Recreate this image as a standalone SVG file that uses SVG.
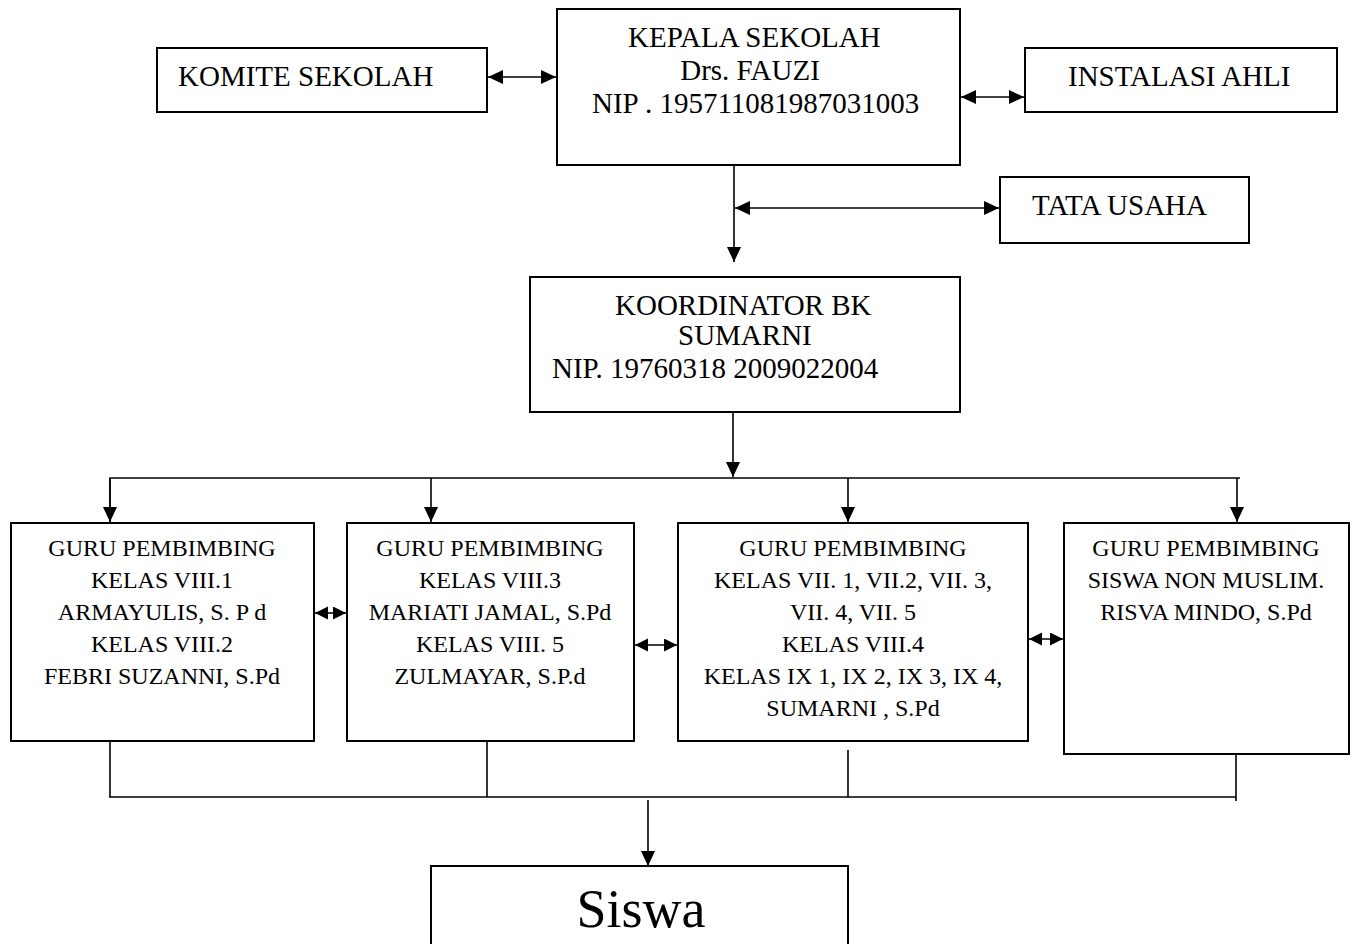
<svg xmlns="http://www.w3.org/2000/svg" width="1354" height="944" viewBox="0 0 1354 944">
<style>
.box{fill:#fff;stroke:#000;stroke-width:2}
.t{font-family:"Liberation Serif","Times New Roman",serif;font-size:29px;fill:#000}
.g{font-family:"Liberation Serif","Times New Roman",serif;font-size:24px;fill:#000;text-anchor:middle}
.c{fill:none;stroke:#000;stroke-width:1.6}
.a{marker-end:url(#ah)}
.d{marker-start:url(#ah);marker-end:url(#ah)}
.ds{marker-start:url(#as);marker-end:url(#as)}
</style>
<defs>
<marker id="ah" markerUnits="userSpaceOnUse" markerWidth="17" markerHeight="16" refX="15" refY="7.5" orient="auto-start-reverse"><path d="M0,0.5 L15,7.5 L0,14.5 z" fill="#000"/></marker>
<marker id="as" markerUnits="userSpaceOnUse" markerWidth="15" markerHeight="14" refX="13" refY="6.5" orient="auto-start-reverse"><path d="M0,0 L13,6.5 L0,13 z" fill="#000"/></marker>
</defs>
<rect width="1354" height="944" fill="#fff"/>
<g id="connectors">
<line class="c d" x1="488" y1="77" x2="556" y2="77"/>
<line class="c d" x1="961" y1="97" x2="1024" y2="97"/>
<line class="c a" x1="734" y1="165" x2="734" y2="262"/>
<line class="c d" x1="735" y1="208" x2="999" y2="208"/>
<line class="c a" x1="733" y1="413" x2="733" y2="477"/>
<polyline class="c" points="110,522 110,478 1240,478"/>
<line class="c a" x1="110" y1="478" x2="110" y2="522"/>
<line class="c a" x1="431" y1="478" x2="431" y2="522"/>
<line class="c a" x1="848" y1="478" x2="848" y2="522"/>
<line class="c a" x1="1237" y1="478" x2="1237" y2="522"/>
<line class="c ds" x1="315" y1="613" x2="346" y2="613"/>
<line class="c ds" x1="635" y1="645" x2="677" y2="645"/>
<line class="c ds" x1="1029" y1="639" x2="1063" y2="639"/>
<line class="c" x1="110" y1="741" x2="110" y2="797"/>
<line class="c" x1="487" y1="741" x2="487" y2="797"/>
<line class="c" x1="848" y1="750" x2="848" y2="797"/>
<line class="c" x1="1236" y1="754" x2="1236" y2="801"/>
<line class="c" x1="109" y1="797" x2="1236" y2="797"/>
<line class="c a" x1="648" y1="800" x2="648" y2="866"/>
</g>
<g id="komite">
<rect class="box" x="157" y="48" width="330" height="64"/>
<text class="t" x="178" y="86">KOMITE SEKOLAH</text>
</g>
<g id="kepala">
<rect class="box" x="557" y="9" width="403" height="156"/>
<text class="t" x="628" y="47">KEPALA SEKOLAH</text>
<text class="t" x="750" y="80" text-anchor="middle">Drs. FAUZI</text>
<text class="t" x="592" y="113">NIP . 195711081987031003</text>
</g>
<g id="instalasi">
<rect class="box" x="1025" y="48" width="312" height="64"/>
<text class="t" x="1068" y="86">INSTALASI AHLI</text>
</g>
<g id="tata-usaha">
<rect class="box" x="1000" y="177" width="249" height="66"/>
<text class="t" x="1032" y="215">TATA USAHA</text>
</g>
<g id="koordinator">
<rect class="box" x="530" y="277" width="430" height="135"/>
<text class="t" x="615" y="315">KOORDINATOR BK</text>
<text class="t" x="678" y="345">SUMARNI</text>
<text class="t" x="552" y="378">NIP. 19760318 2009022004</text>
</g>
<g id="guru1">
<rect class="box" x="11" y="523" width="303" height="218"/>
<text class="g" x="162" y="556">GURU PEMBIMBING</text>
<text class="g" x="162" y="588">KELAS VIII.1</text>
<text class="g" x="162" y="620">ARMAYULIS, S. P d</text>
<text class="g" x="162" y="652">KELAS VIII.2</text>
<text class="g" x="162" y="684">FEBRI SUZANNI, S.Pd</text>
</g>
<g id="guru2">
<rect class="box" x="347" y="523" width="287" height="218"/>
<text class="g" x="490" y="556">GURU PEMBIMBING</text>
<text class="g" x="490" y="588">KELAS VIII.3</text>
<text class="g" x="490" y="620">MARIATI JAMAL, S.Pd</text>
<text class="g" x="490" y="652">KELAS VIII. 5</text>
<text class="g" x="490" y="684">ZULMAYAR, S.P.d</text>
</g>
<g id="guru3">
<rect class="box" x="678" y="523" width="350" height="218"/>
<text class="g" x="853" y="556">GURU PEMBIMBING</text>
<text class="g" x="853" y="588">KELAS VII. 1, VII.2, VII. 3,</text>
<text class="g" x="853" y="620">VII. 4, VII. 5</text>
<text class="g" x="853" y="652">KELAS VIII.4</text>
<text class="g" x="853" y="684">KELAS IX 1, IX 2, IX 3, IX 4,</text>
<text class="g" x="853" y="716">SUMARNI , S.Pd</text>
</g>
<g id="guru4">
<rect class="box" x="1064" y="523" width="285" height="231"/>
<text class="g" x="1206" y="556">GURU PEMBIMBING</text>
<text class="g" x="1206" y="588">SISWA NON MUSLIM.</text>
<text class="g" x="1206" y="620">RISVA MINDO, S.Pd</text>
</g>
<g id="siswa">
<rect class="box" x="431" y="866" width="417" height="90"/>
<text class="t" x="641" y="927" text-anchor="middle" style="font-size:54px">Siswa</text>
</g>
</svg>
